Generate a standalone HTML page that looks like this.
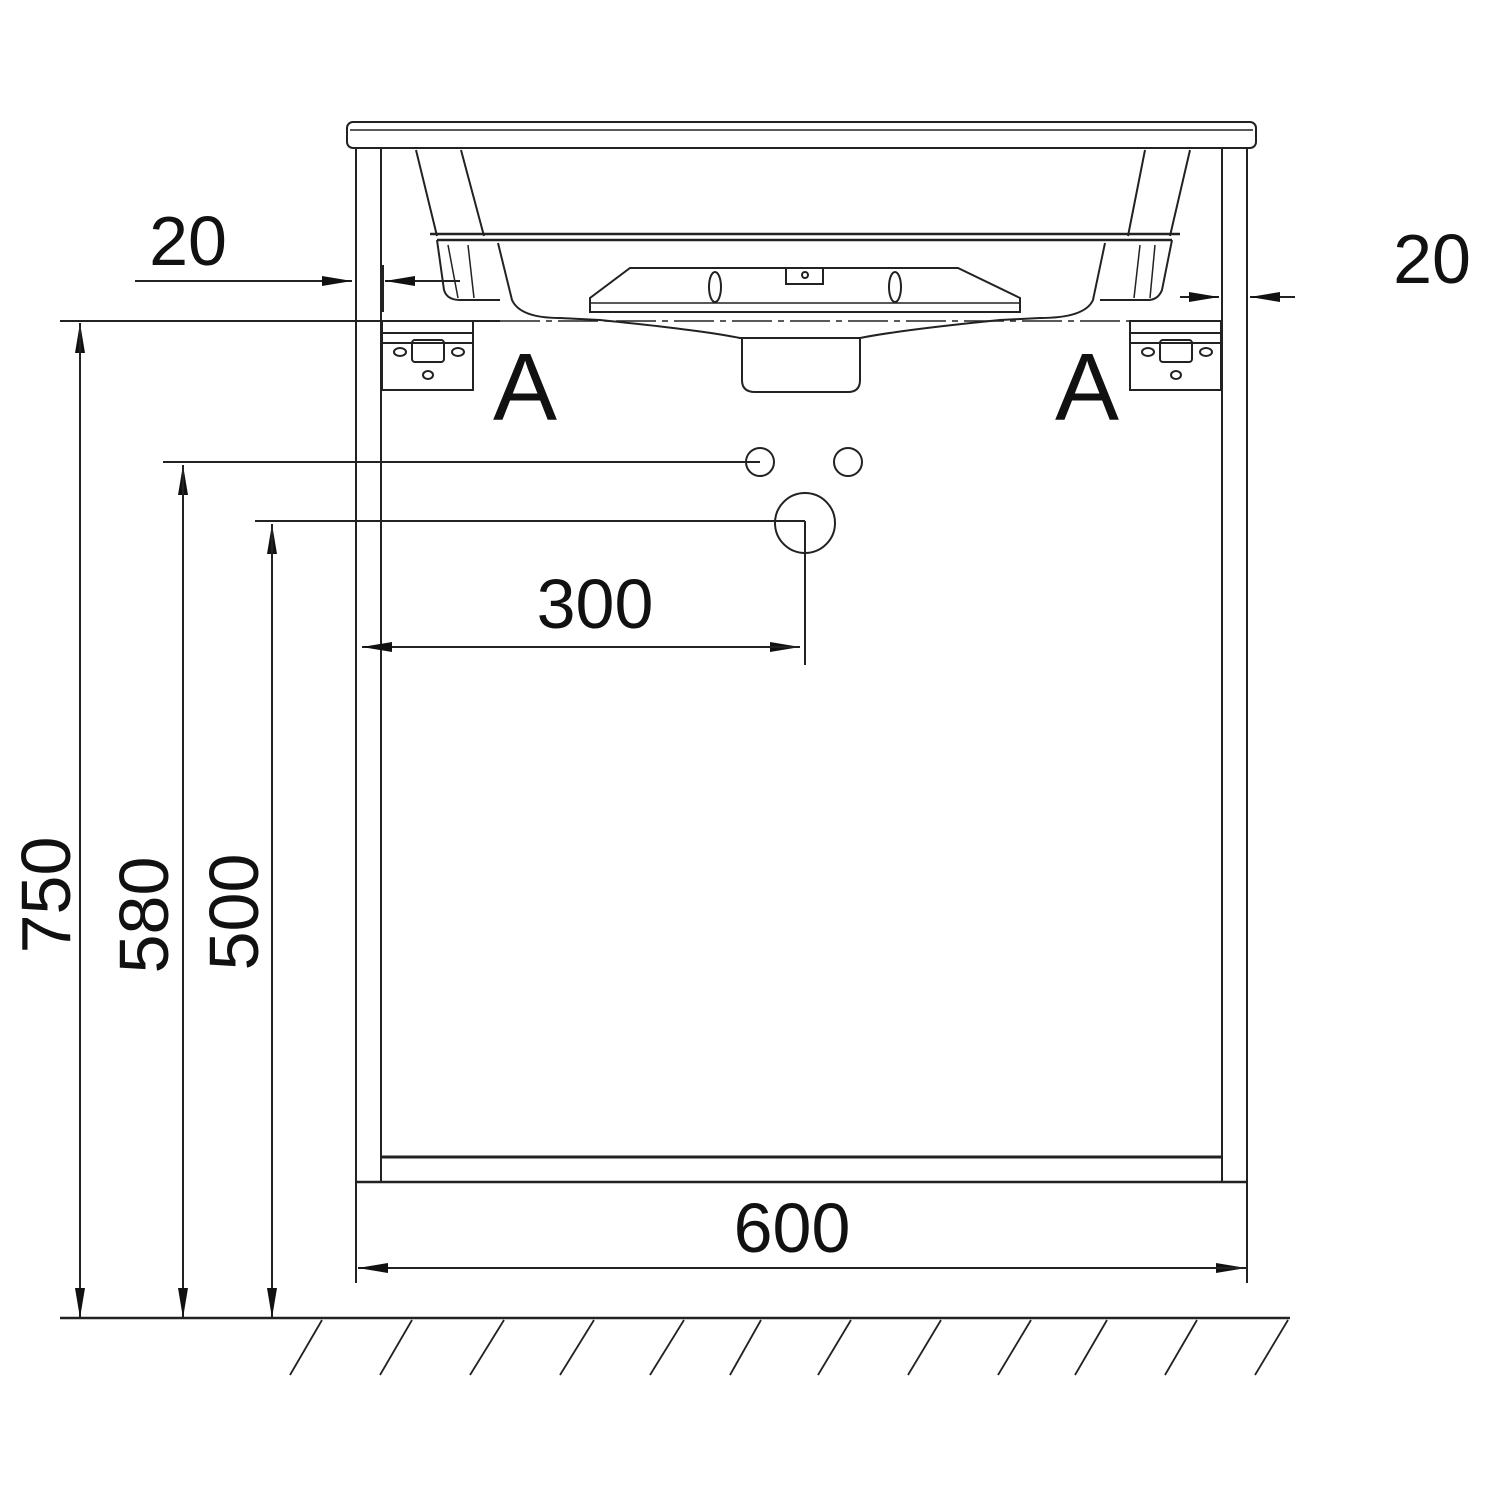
<!DOCTYPE html>
<html><head><style>body{margin:0;background:#fff}svg{display:block}text{font-family:"Liberation Sans",sans-serif;fill:#111}</style></head>
<body>
<svg width="1500" height="1500" viewBox="0 0 1500 1500" xmlns="http://www.w3.org/2000/svg">
<defs>
<marker id="ar" markerWidth="30" markerHeight="12" refX="30" refY="6" orient="auto" markerUnits="userSpaceOnUse"><path d="M0,1 L30,6 L0,11 Z" fill="#111"/></marker>
</defs>
<g stroke="#222" fill="none" stroke-width="2">
<!-- top slab -->
<rect x="347" y="122" width="909" height="26" rx="6"/>
<line x1="350" y1="130" x2="1253" y2="130" stroke-width="1.5"/>
<!-- cabinet -->
<line x1="356" y1="148" x2="356" y2="1283"/>
<line x1="1247" y1="148" x2="1247" y2="1283"/>
<line x1="381" y1="148" x2="381" y2="1182"/>
<line x1="1222" y1="148" x2="1222" y2="1182"/>
<line x1="381" y1="1157" x2="1222" y2="1157" stroke-width="3"/>
<line x1="356" y1="1182" x2="1247" y2="1182" stroke-width="2.5"/>
<!-- sink -->
<path d="M416,150 L437,236 M461,150 L484,236 M1190,150 L1170,236 M1145,150 L1128,236"/>
<path d="M430,234 L1180,234 M437,240 L1172,240" stroke-width="2.5"/>
<path d="M437,240 L444,290 Q447,300 460,300 L500,300 M1172,240 L1162,290 Q1158,300 1148,300 L1100,300"/>
<path d="M448,245 L458,298 M468,245 L474,298 M1140,245 L1134,298 M1155,245 L1150,298" stroke-width="1.5"/>
<path d="M498,243 L512,300 Q520,318 560,318 L600,320 Q700,330 740,338 L860,338 Q900,330 1000,320 L1040,318 Q1085,318 1093,300 L1105,243"/>
<path d="M590,312 L590,298 L630,268 L958,268 L1020,298 L1020,312 Z"/>
<line x1="590" y1="303" x2="1020" y2="303" stroke-width="1.5"/>
<ellipse cx="715" cy="287" rx="6" ry="15"/>
<ellipse cx="895" cy="287" rx="6" ry="15"/>
<rect x="786" y="268" width="37" height="16"/>
<circle cx="805" cy="275" r="3"/>
<path d="M742,338 L742,380 Q742,392 755,392 L848,392 Q860,392 860,380 L860,338"/>
<line x1="60" y1="321" x2="500" y2="321"/>
<line x1="500" y1="321" x2="1220" y2="321" stroke-dasharray="40,6,6,6" stroke-width="1.5"/>
<!-- brackets -->
<rect x="382" y="321" width="91" height="69"/>
<line x1="382" y1="333" x2="473" y2="333"/>
<line x1="382" y1="343" x2="473" y2="343"/>
<rect x="412" y="340" width="32" height="22" rx="3"/>
<ellipse cx="400" cy="352" rx="6" ry="4"/><ellipse cx="458" cy="352" rx="6" ry="4"/><ellipse cx="428" cy="375" rx="5" ry="4"/>
<rect x="1130" y="321" width="91" height="69"/>
<line x1="1130" y1="333" x2="1221" y2="333"/>
<line x1="1130" y1="343" x2="1221" y2="343"/>
<rect x="1160" y="340" width="32" height="22" rx="3"/>
<ellipse cx="1148" cy="352" rx="6" ry="4"/><ellipse cx="1206" cy="352" rx="6" ry="4"/><ellipse cx="1176" cy="375" rx="5" ry="4"/>
<!-- 20 dims -->
<line x1="135" y1="281" x2="352" y2="281" marker-end="url(#ar)"/>
<line x1="460" y1="281" x2="385" y2="281" marker-end="url(#ar)"/>
<line x1="383" y1="265" x2="383" y2="312"/>
<line x1="1295" y1="297" x2="1250" y2="297" marker-end="url(#ar)"/>
<line x1="1180" y1="297" x2="1219" y2="297" marker-end="url(#ar)"/>
<line x1="1222" y1="285" x2="1222" y2="312"/>
<!-- holes -->
<circle cx="760" cy="462" r="14"/>
<circle cx="848" cy="462" r="14"/>
<circle cx="805" cy="523" r="30"/>
<line x1="163" y1="462" x2="760" y2="462"/>
<line x1="255" y1="521" x2="805" y2="521"/>
<line x1="805" y1="521" x2="805" y2="665"/>
<line x1="362" y1="647" x2="800" y2="647" marker-end="url(#ar)"/>
<line x1="800" y1="647" x2="362" y2="647" marker-end="url(#ar)"/>
<!-- vertical dims -->
<line x1="80" y1="1318" x2="80" y2="323" marker-end="url(#ar)"/>
<line x1="80" y1="323" x2="80" y2="1318" marker-end="url(#ar)"/>
<line x1="183" y1="1318" x2="183" y2="465" marker-end="url(#ar)"/>
<line x1="183" y1="465" x2="183" y2="1318" marker-end="url(#ar)"/>
<line x1="272" y1="1318" x2="272" y2="524" marker-end="url(#ar)"/>
<line x1="272" y1="524" x2="272" y2="1318" marker-end="url(#ar)"/>
<!-- 600 -->
<line x1="358" y1="1268" x2="1246" y2="1268" marker-end="url(#ar)"/>
<line x1="1246" y1="1268" x2="358" y2="1268" marker-end="url(#ar)"/>
<!-- floor -->
<line x1="60" y1="1318" x2="1290" y2="1318" stroke-width="2.5"/>
<path d="M412,1320 L380,1375 M504,1320 L470,1375 M594,1320 L560,1375 M684,1320 L650,1375 M761,1320 L730,1375 M851,1320 L818,1375 M941,1320 L908,1375 M1031,1320 L998,1375 M1107,1320 L1075,1375 M1197,1320 L1165,1375 M1288,1320 L1255,1375 M322,1320 L290,1375" stroke-width="1.8"/>
</g>
<g font-size="70">
<text x="188" y="265" text-anchor="middle">20</text>
<text x="1432" y="283" text-anchor="middle">20</text>
<text x="595" y="628" text-anchor="middle">300</text>
<text x="792" y="1252" text-anchor="middle">600</text>
<text transform="translate(70,895) rotate(-90)" text-anchor="middle">750</text>
<text transform="translate(168,915) rotate(-90)" text-anchor="middle">580</text>
<text transform="translate(258,912) rotate(-90)" text-anchor="middle">500</text>
</g>
<g font-size="96">
<text x="525" y="420" text-anchor="middle">A</text>
<text x="1087" y="420" text-anchor="middle">A</text>
</g>
</svg>
</body></html>
